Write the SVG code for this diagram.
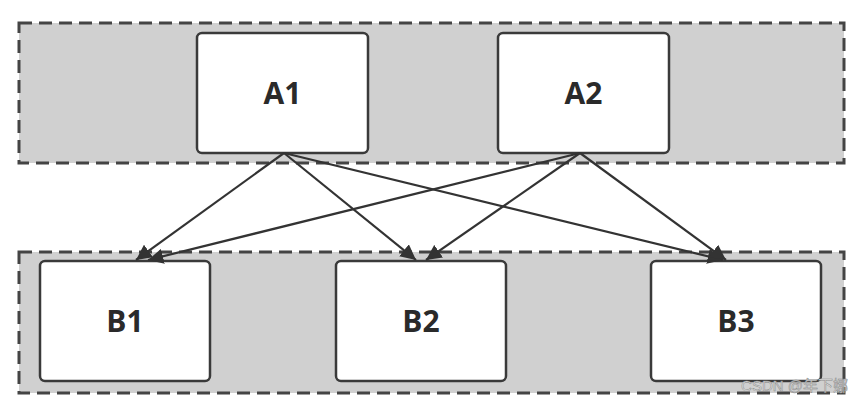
<svg xmlns="http://www.w3.org/2000/svg" width="864" height="404" viewBox="0 0 864 404">
<style>
.grp{fill:#d0d0d0;stroke:#444;stroke-width:3;stroke-dasharray:13 7}
.box{fill:#fff;stroke:#3a3a3a;stroke-width:2.5}
.lbl{font-family:"Open Sans","Noto Sans","DejaVu Sans",sans-serif;font-weight:bold;font-size:30px;fill:#2a2a2a;text-anchor:middle}
.edge{stroke:#333;stroke-width:2.2;fill:none;marker-end:url(#ah)}
.wm{font-family:"Liberation Sans","Noto Sans CJK SC",sans-serif;font-size:15px;fill:#e4e4e4;stroke:#888;stroke-width:0.5}
</style>
<defs>
<marker id="ah" viewBox="0 0 10 10" refX="10" refY="5" markerWidth="7" markerHeight="7" orient="auto" markerUnits="strokeWidth">
<path d="M0,0 L10,5 L0,10 z" fill="#333"/>
</marker>
</defs>
<rect id="groupA" class="grp" x="19" y="23" width="825" height="140"/>
<rect id="groupB" class="grp" x="19" y="252" width="825" height="141"/>
<g id="A1"><rect class="box" x="197" y="33" width="171" height="120" rx="5"/><text class="lbl" x="282.5" y="104">A1</text></g>
<g id="A2"><rect class="box" x="498" y="33" width="171" height="120" rx="5"/><text class="lbl" x="583.5" y="104">A2</text></g>
<g id="B1"><rect class="box" x="40" y="261" width="170" height="120" rx="5"/><text class="lbl" x="125" y="332">B1</text></g>
<g id="B2"><rect class="box" x="336" y="261" width="170" height="120" rx="5"/><text class="lbl" x="421" y="332">B2</text></g>
<g id="B3"><rect class="box" x="651" y="261" width="170" height="120" rx="5"/><text class="lbl" x="736" y="332">B3</text></g>
<g id="connectors">
<line class="edge" x1="284" y1="153" x2="136" y2="260"/>
<line class="edge" x1="284" y1="153" x2="416" y2="260"/>
<line class="edge" x1="284" y1="153" x2="723" y2="260"/>
<line class="edge" x1="580" y1="153" x2="148" y2="260"/>
<line class="edge" x1="580" y1="153" x2="426" y2="260"/>
<line class="edge" x1="580" y1="153" x2="726" y2="260"/>
</g>
<text class="wm" x="848" y="391" text-anchor="end">CSDN @年下娜</text>
</svg>
